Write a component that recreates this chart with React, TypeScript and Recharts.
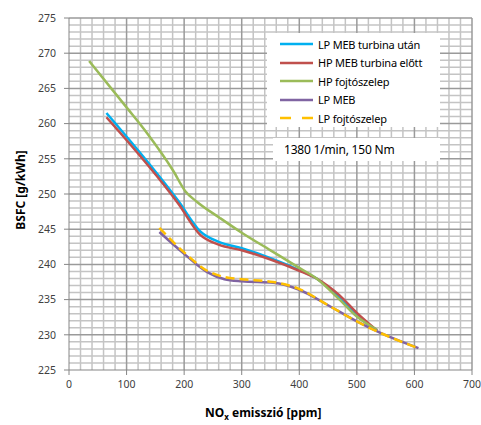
import { LineChart, Line, XAxis, YAxis, ReferenceLine } from 'recharts';

// NOx [ppm], BSFC [g/kWh] pairs
const lpMebTurbinaUtan = [
  [65, 261.5], [190, 249.0], [228, 244.7], [260, 243.2], [300, 242.3], [350, 240.9],
  [400, 239.2], [430, 238.0], [470, 235.2], [500, 232.8], [535, 230.6],
];
const hpMebTurbinaElott = [
  [65, 260.9], [190, 248.6], [228, 244.2], [260, 242.8], [300, 242.0], [350, 240.7],
  [400, 239.1], [430, 238.0], [470, 235.6], [500, 233.1], [535, 230.6],
];
const hpFojtoszelep = [
  [35, 268.9], [100, 262.3], [135, 258.7], [181, 253.3], [202, 250.4], [222, 248.9], [262, 246.6],
  [300, 244.5], [350, 242.0], [400, 239.5], [430, 238.0], [470, 235.0], [500, 232.6], [535, 230.7],
];
const lpMeb = [
  [157, 244.6], [200, 241.5], [240, 238.9], [270, 237.9], [300, 237.6], [355, 237.4],
  [400, 236.4], [450, 234.2], [500, 231.9], [540, 230.3], [607, 228.1],
];
const lpFojtoszelep = [
  [157, 245.2], [200, 241.7], [240, 239.1], [270, 238.2], [300, 237.9], [355, 237.5],
  [400, 236.5], [450, 234.2], [500, 231.9], [540, 230.3], [607, 228.1],
];

const xTicks = [0, 100, 200, 300, 400, 500, 600, 700];
const yTicks = [225, 230, 235, 240, 245, 250, 255, 260, 265, 270, 275];
const xMinor = Array.from({ length: 36 }, (_, i) => i * 20).filter(v => v % 100 !== 0);
const yMinor = Array.from({ length: 51 }, (_, i) => 225 + i).filter(v => v % 5 !== 0);

const series = [
  { name: 'LP MEB turbina után', data: lpMebTurbinaUtan, color: '#00b0f0', dash: undefined },
  { name: 'HP MEB turbina előtt', data: hpMebTurbinaElott, color: '#c0504d', dash: undefined },
  { name: 'HP fojtószelep', data: hpFojtoszelep, color: '#9bbb59', dash: undefined },
  { name: 'LP MEB', data: lpMeb, color: '#8064a2', dash: undefined },
  { name: 'LP fojtószelep', data: lpFojtoszelep, color: '#ffc000', dash: '9 5' },
];

const font = '"Noto Sans", "Open Sans", sans-serif';

export default function App() {
  return (
    <div style={{ position: 'absolute', left: 0, top: 0, width: 481, height: 425, background: '#fff', fontFamily: font }}>
      <LineChart width={481} height={425} margin={{ top: 18, right: 9, bottom: 25, left: 0 }}>
        <XAxis
          type="number"
          dataKey="x"
          domain={[0, 700]}
          ticks={xTicks}
          allowDuplicatedCategory={false}
          tick={{ fontSize: 10.5, fill: '#404040', fontFamily: font }}
          tickSize={5}
          tickMargin={6}
          stroke="#868686"
          height={30}
        />
        <YAxis
          type="number"
          domain={[225, 275]}
          ticks={yTicks}
          tick={{ fontSize: 10.5, fill: '#404040', fontFamily: font }}
          tickSize={5}
          tickMargin={8}
          stroke="#868686"
          width={69}
        />
        {xMinor.map(v => (
          <ReferenceLine key={'xm' + v} x={v} stroke="#c4c4c4" strokeWidth={1.5} />
        ))}
        {yMinor.map(v => (
          <ReferenceLine key={'ym' + v} y={v} stroke="#c4c4c4" strokeWidth={1.5} />
        ))}
        {xTicks.slice(1).map(v => (
          <ReferenceLine key={'xM' + v} x={v} stroke="#9a9a9a" strokeWidth={1.5} />
        ))}
        {yTicks.slice(1).map(v => (
          <ReferenceLine key={'yM' + v} y={v} stroke="#9a9a9a" strokeWidth={1.5} />
        ))}
        {series.map(s => (
          <Line
            key={s.name}
            data={s.data.map(([x, y]) => ({ x, y }))}
            dataKey="y"
            type="monotone"
            stroke={s.color}
            strokeWidth={2.5}
            strokeDasharray={s.dash}
            dot={false}
            activeDot={false}
            isAnimationActive={false}
            name={s.name}
          />
        ))}
      </LineChart>

      {/* legend box */}
      <div style={{ position: 'absolute', left: 267, top: 33, width: 173, height: 94, background: '#fff' }}>
        {series.map((s, i) => (
          <div key={s.name} style={{ position: 'absolute', left: 13, top: 3 + i * 18.6, height: 16, display: 'flex', alignItems: 'center' }}>
            <svg width={34} height={6}>
              <line x1={0} x2={33} y1={3} y2={3} stroke={s.color} strokeWidth={2.5} strokeDasharray={s.dash ? '11 11' : undefined} />
            </svg>
            <span style={{ marginLeft: 4, fontSize: 11, color: '#000', whiteSpace: 'nowrap', letterSpacing: -0.2 }}>{s.name}</span>
          </div>
        ))}
      </div>

      {/* operating point box */}
      <div style={{ position: 'absolute', left: 273, top: 138, width: 167, height: 23, background: '#fff' }}>
        <span style={{ position: 'absolute', left: 11, top: 3, fontSize: 12, color: '#000', whiteSpace: 'nowrap', letterSpacing: -0.2 }}>
          1380 1/min, 150 Nm
        </span>
      </div>

      {/* axis titles */}
      <div style={{ position: 'absolute', left: 205, top: 404, fontSize: 12, fontWeight: 700, color: '#000', whiteSpace: 'nowrap' }}>
        NO<sub style={{ fontSize: 8 }}>x</sub> emisszió [ppm]
      </div>
      <div
        style={{
          position: 'absolute',
          left: 20,
          top: 190,
          transform: 'translate(-50%, -50%) rotate(-90deg)',
          fontSize: 12,
          fontWeight: 700,
          color: '#000',
          whiteSpace: 'nowrap',
        }}
      >
        BSFC [g/kWh]
      </div>
    </div>
  );
}
